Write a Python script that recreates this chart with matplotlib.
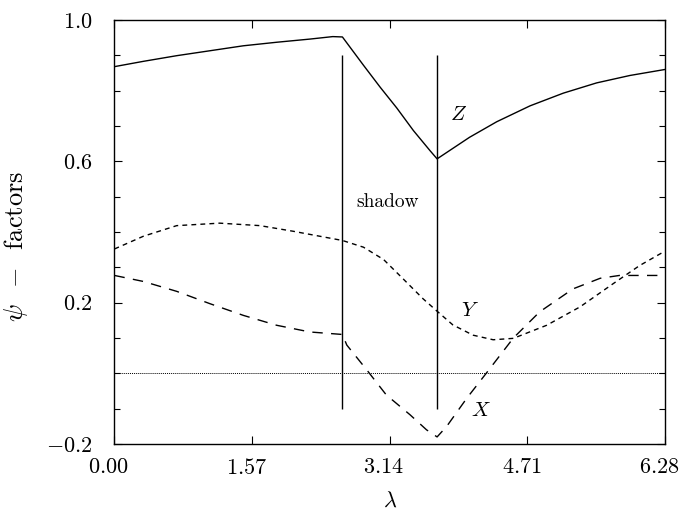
import matplotlib
matplotlib.use("Agg")
import matplotlib.pyplot as plt
import matplotlib.transforms as mtransforms
from matplotlib.ticker import MultipleLocator, FixedLocator

plt.rcParams['mathtext.fontset'] = 'cm'
plt.rcParams['font.family'] = ['cmr10', 'DejaVu Serif']
plt.rcParams['axes.unicode_minus'] = False

# Z factor (solid)
lam_z = [0.00, 0.33, 0.71, 1.09, 1.47, 1.85, 2.23, 2.49, 2.60, 2.84, 3.03,
         3.22, 3.41, 3.60, 3.68, 4.05, 4.36, 4.74, 5.12, 5.50, 5.88, 6.28]
psi_z = [0.868, 0.883, 0.899, 0.913, 0.927, 0.937, 0.946, 0.953, 0.952, 0.872, 0.810,
         0.751, 0.687, 0.630, 0.607, 0.668, 0.712, 0.757, 0.793, 0.822, 0.843, 0.860]

# Y factor (short dashes)
lam_y = [0.00, 0.33, 0.71, 1.20, 1.66, 2.04, 2.60, 2.84, 3.07, 3.29, 3.52,
         3.67, 3.86, 4.09, 4.32, 4.55, 4.93, 5.31, 5.69, 5.99, 6.28]
psi_y = [0.352, 0.388, 0.418, 0.425, 0.418, 0.402, 0.376, 0.357, 0.322, 0.268, 0.211,
         0.178, 0.137, 0.108, 0.095, 0.099, 0.136, 0.188, 0.254, 0.305, 0.346]

# X factor (long dashes)
lam_x = [0.00, 0.33, 0.71, 1.09, 1.47, 1.85, 2.23, 2.60, 2.65, 2.88, 3.10, 3.37,
         3.56, 3.68, 3.79, 4.02, 4.24, 4.55, 4.85, 5.23, 5.54, 5.76, 6.28]
psi_x = [0.277, 0.260, 0.232, 0.197, 0.164, 0.136, 0.117, 0.110, 0.080, 0.009, -0.061, -0.117,
         -0.160, -0.180, -0.150, -0.070, 0.000, 0.100, 0.174, 0.239, 0.269, 0.277, 0.277]

# shadow boundaries
shadow_edges = [2.60, 3.68]

xticks = [0.00, 1.57, 3.14, 4.71, 6.28]
xtick_labels = [r'$0.00$', r'$1.57$', r'$3.14$', r'$4.71$', r'$6.28$']
yticks = [-0.2, 0.2, 0.6, 1.0]
ytick_labels = [r'$-0.2$', r'$0.2$', r'$0.6$', r'$1.0$']

fig = plt.figure(figsize=(6.83, 5.14), dpi=100)
ax = fig.add_axes([0.1676, 0.1362, 0.8061, 0.8249])

ax.plot(lam_z, psi_z, color='black', lw=1.0)
ax.plot(lam_y, psi_y, color='black', lw=1.0, dashes=(3.5, 3))
ax.plot(lam_x, psi_x, color='black', lw=1.0, dashes=(7.5, 6))
ax.plot([0, 6.28], [0, 0], color='black', lw=0.7, dashes=(1, 1))
ax.vlines(shadow_edges, -0.1, 0.9, color='black', lw=1.0)

ax.text(3.12, 0.485, 'shadow', fontsize=14, ha='center', va='center')
ax.text(3.92, 0.730, r'$Z$', fontsize=15, ha='center', va='center')
ax.text(4.06, 0.177, r'$Y$', fontsize=15, ha='center', va='center')
ax.text(4.18, -0.106, r'$X$', fontsize=15, ha='center', va='center')

ax.set_xlim(0, 6.28)
ax.set_ylim(-0.2, 1.0)
ax.xaxis.set_major_locator(FixedLocator(xticks))
ax.set_xticklabels(xtick_labels)
ax.yaxis.set_major_locator(FixedLocator(yticks))
ax.set_yticklabels(ytick_labels)
ax.yaxis.set_minor_locator(MultipleLocator(0.1))

ax.tick_params(which='both', direction='in', top=True, right=True, width=0.8)
ax.tick_params(which='major', length=6, labelsize=16)
ax.tick_params(which='minor', length=4.3)
ax.tick_params(axis='x', pad=10)
ax.tick_params(axis='y', pad=16)
for s in ax.spines.values():
    s.set_linewidth(1.0)

# x tick labels sit a little left of their ticks in the original
shift = mtransforms.ScaledTranslation(-6 / 100, 0, fig.dpi_scale_trans)
for lbl in ax.get_xticklabels():
    lbl.set_transform(lbl.get_transform() + shift)

ax.set_xlabel(r'$\lambda$', fontsize=16)
ax.xaxis.set_label_coords(0.5, -0.11)
ax.set_ylabel(r'$\psi$  $-$  factors', fontsize=19)
ax.yaxis.set_label_coords(-0.153, 0.465)

fig.savefig('out.png', dpi=100)
